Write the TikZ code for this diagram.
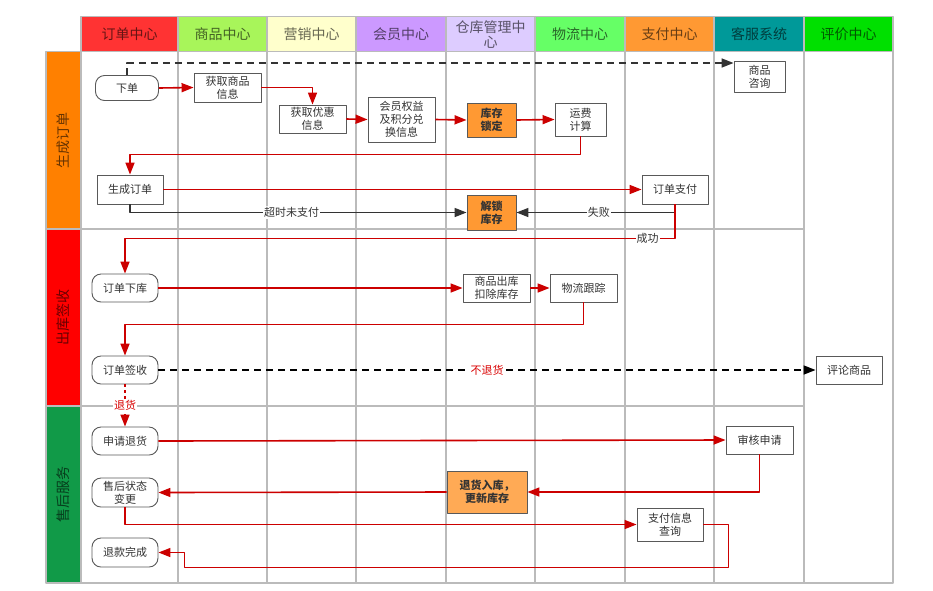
\documentclass[tikz,border=0pt]{standalone}
\usepackage{fontspec}
\setmainfont{Noto Sans CJK SC}
\usetikzlibrary{arrows.meta}
\definecolor{gridgray}{HTML}{BBBBBB}
\definecolor{boxgray}{HTML}{595959}
\definecolor{txtgray}{HTML}{333333}
\definecolor{flowred}{HTML}{CC0000}
\definecolor{flowdark}{HTML}{333333}
\definecolor{hotorange}{HTML}{FF9933}
\definecolor{softorange}{HTML}{FFAA55}
\definecolor{hdA}{HTML}{FF3333}
\definecolor{hdB}{HTML}{A8F55A}
\definecolor{hdC}{HTML}{FFFFCC}
\definecolor{hdD}{HTML}{CC99FF}
\definecolor{hdE}{HTML}{DDCCFF}
\definecolor{hdF}{HTML}{66FF66}
\definecolor{hdG}{HTML}{FF9933}
\definecolor{hdH}{HTML}{009999}
\definecolor{hdI}{HTML}{00E000}
\definecolor{laneA}{HTML}{FF8000}
\definecolor{laneB}{HTML}{FF0000}
\definecolor{laneC}{HTML}{119A48}
\begin{document}
\begin{tikzpicture}[x=1pt, y=-1pt, line join=round, >={Triangle[length=12pt,width=9pt]},
  grid/.style={gridgray, line width=1.4pt},
  box/.style={draw=boxgray, line width=0.9pt, fill=white, align=center, inner sep=1pt,
    text=txtgray, font=\fontsize{11}{13}\selectfont},
  term/.style={box, rounded corners=9pt},
  hot/.style={box, fill=hotorange, font=\fontsize{11}{13}\selectfont\bfseries},
  flow/.style={flowred, line width=1.6pt, ->},
  back/.style={flowdark, line width=1.6pt, ->},
  tag/.style={fill=white, inner sep=1pt, font=\fontsize{11}{13}\selectfont, text=txtgray},
  redtag/.style={tag, text=red!85!black},
  head/.style={text=black, text opacity=0.6, font=\fontsize{14}{15}\selectfont, align=center},
  lane/.style={head, rotate=90}]
\useasboundingbox (0,0) rectangle (933,590);
\fill[white] (0,0) rectangle (933,590);
\foreach \xa/\xb/\c/\t [count=\i] in {81/178/hdA/订单中心, 178/267/hdB/商品中心, 267/356/hdC/营销中心,
  356/446/hdD/会员中心, 446/535/hdE/{仓库管理中\\心}, 535/625/hdF/物流中心, 625/714/hdG/支付中心,
  714/804/hdH/客服系统, 804/893/hdI/评价中心} {
  \fill[\c] (\xa,16.7) rectangle (\xb,51.7);
  \node[head] (h\i) at ({(\xa+\xb)/2},34.2) {\t};
}
\foreach \ya/\yb/\c/\t [count=\i] in {51.7/229/laneA/生成订单, 229/406/laneB/出库签收, 406/583/laneC/售后服务} {
  \fill[\c] (46,\ya) rectangle (81,\yb);
  \node[lane] (l\i) at (63.5,{(\ya+\yb)/2}) {\t};
}
\foreach \x in {178,267,356,446,535,625,714,804}
  \draw[grid] (\x,16.7) -- (\x,583);
\draw[grid] (81,16.7) rectangle (893,583);
\draw[grid] (81,51.7) -- (893,51.7);
\draw[grid] (46,51.7) rectangle (81,583);
\draw[grid] (46,229) -- (804,229);
\draw[grid] (46,406) -- (804,406);
\draw[grid] (46,583) -- (893,583);

\node[term, minimum width=63, minimum height=25] (xd) at (127,88) {下单};
\node[box, minimum width=67, minimum height=29] (hqsp) at (227.5,87.5) {获取商品\\信息};
\node[box, minimum width=67, minimum height=28] (hqyh) at (312.5,119) {获取优惠\\信息};
\node[box, minimum width=67, minimum height=45] (hyqy) at (401.5,119.5) {会员权益\\及积分兑\\换信息};
\node[hot, minimum width=49, minimum height=34] (kcsd) at (491.5,120) {库存\\锁定};
\node[box, minimum width=51, minimum height=33] (yfjs) at (580.5,119.5) {运费\\计算};
\node[box, minimum width=51, minimum height=31] (spzx) at (759.5,76.5) {商品\\咨询};
\node[box, minimum width=66, minimum height=29] (scdd) at (130,189.5) {生成订单};
\node[box, minimum width=66, minimum height=29] (ddzf) at (675,189.5) {订单支付};
\node[hot, minimum width=49, minimum height=35] (jskc) at (491.5,212.5) {解锁\\库存};
\node[term, minimum width=66, minimum height=28] (ddxk) at (125,288) {订单下库};
\node[box, minimum width=67, minimum height=28] (spck) at (496.5,288) {商品出库\\扣除库存};
\node[box, minimum width=67, minimum height=28] (wlgz) at (583.5,288) {物流跟踪};
\node[term, minimum width=66, minimum height=28] (ddqs) at (125,370) {订单签收};
\node[box, minimum width=66, minimum height=28] (plsp) at (849,370) {评论商品};
\node[term, minimum width=66, minimum height=28] (sqth) at (125,441) {申请退货};
\node[box, minimum width=67, minimum height=28] (shsq) at (759.5,440) {审核申请};
\node[hot, fill=softorange, minimum width=80, minimum height=42] (thrk) at (487,492) {退货入库，\\更新库存};
\node[term, minimum width=66, minimum height=29] (shzt) at (125,492.5) {售后状态\\变更};
\node[box, minimum width=66, minimum height=33] (zfcx) at (670,524.5) {支付信息\\查询};
\node[term, minimum width=66, minimum height=29] (tkwc) at (125,552.5) {退款完成};

\draw[back, dash pattern=on 7pt off 5pt] (xd.north) |- ([yshift=13.5pt]spzx.west);
\draw[flow] (xd.east) -- (hqsp.west);
\draw[flow] (hqsp.east) -| (hqyh.north);
\draw[flow] (hqyh.east) -- (hyqy.west);
\draw[flow] (hyqy.east) -- (kcsd.west);
\draw[flow] (kcsd.east) -- (yfjs.west);
\draw[flow] (yfjs.south) -- ++(0,18) -| (scdd.north);
\draw[flow] (scdd.east) -- (ddzf.west);
\draw[back] (scdd.south) |- (jskc.west) node[tag, pos=0.74] (lbcs) {超时未支付};
\draw[back] (ddzf.south) |- (jskc.east) node[tag, pos=0.74] (lbsb) {失败};
\draw[flow] (ddzf.south) -- ++(0,34) -| (ddxk.north) node[tag, pos=0.025] (lbcg) {成功};
\draw[flow] (ddxk.east) -- (spck.west);
\draw[flow] (spck.east) -- (wlgz.west);
\draw[flow] (wlgz.south) -- ++(0,22) -| (ddqs.north);
\draw[back, black, dash pattern=on 7pt off 5pt] (ddqs.east) -- (plsp.west) node[redtag, pos=0.5] (lbbt) {不退货};
\draw[flow, dash pattern=on 3pt off 3pt] (ddqs.south) -- (sqth.north) node[redtag, pos=0.5] (lbth) {退货};
\draw[flow] (sqth.east) -- (shsq.west);
\draw[flow] (shsq.south) |- (thrk.east);
\draw[flow] (thrk.west) -- (shzt.east);
\draw[flow] (shzt.south) |- (zfcx.west);
\draw[flow] (zfcx.east) -- ++(25,0) -- ++(0,43) -| ([xshift=26pt]tkwc.east) -- (tkwc.east);
\end{tikzpicture}
\end{document}
